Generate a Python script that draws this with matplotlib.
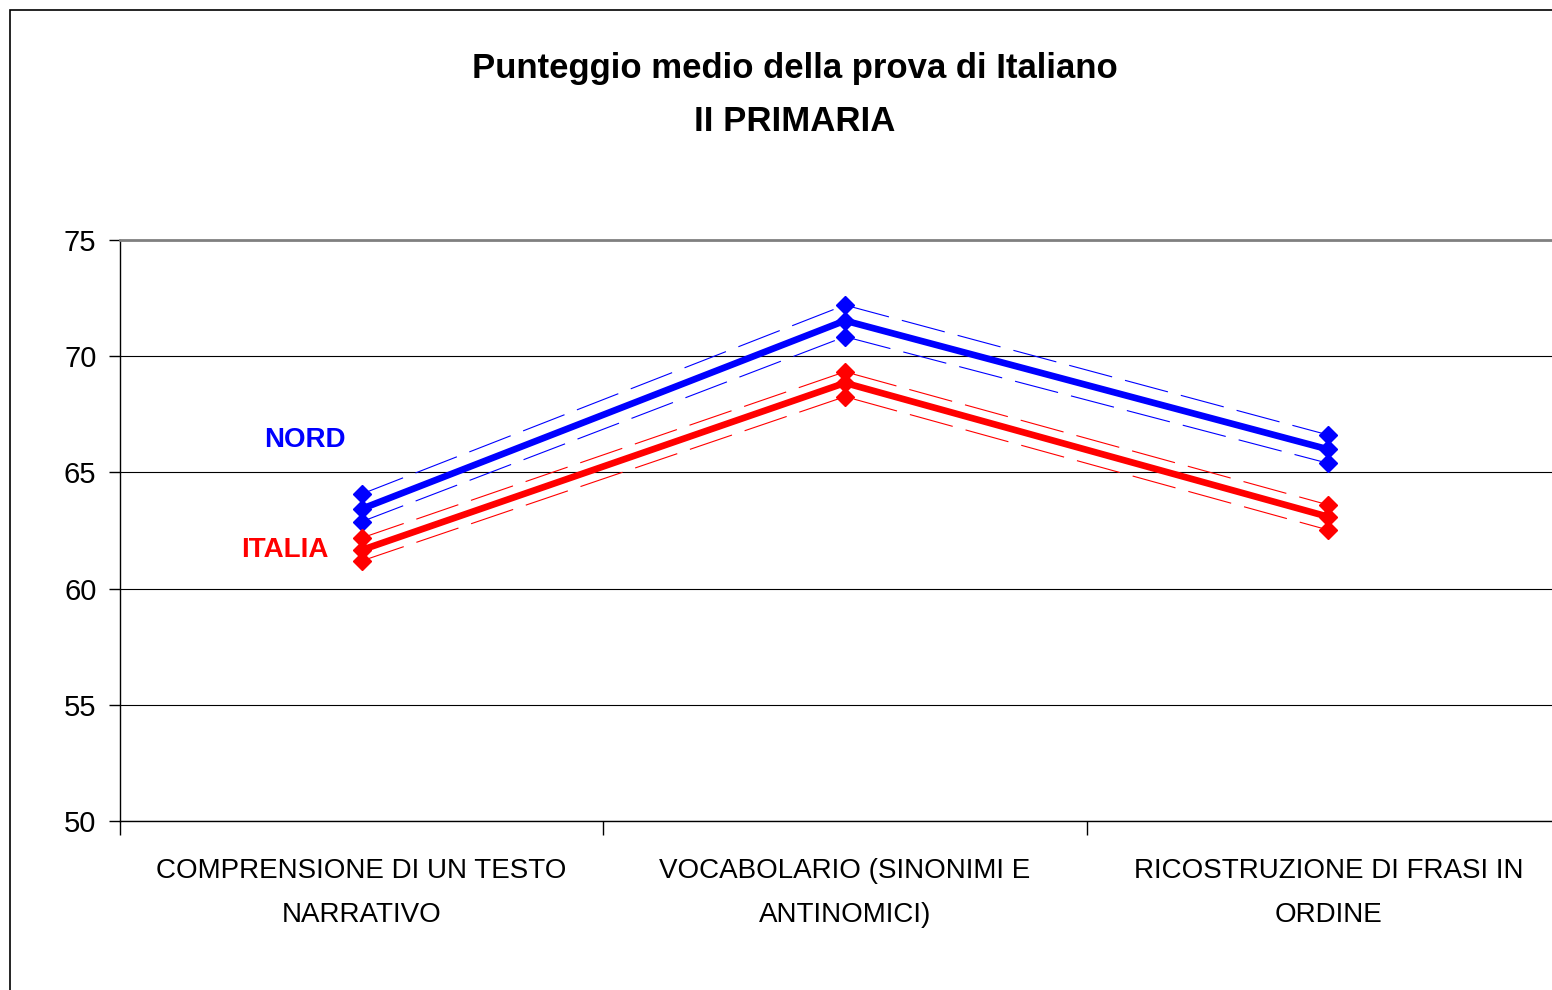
import matplotlib
matplotlib.use("Agg")
import matplotlib.pyplot as plt
from matplotlib.patches import Rectangle
from matplotlib.ticker import FixedLocator
from matplotlib import font_manager

fams = {f.name for f in font_manager.fontManager.ttflist}
narrow = "Liberation Sans Narrow" if "Liberation Sans Narrow" in fams else "Liberation Sans"
plt.rcParams['font.family'] = [narrow, 'DejaVu Sans']

categories = ["COMPRENSIONE DI UN TESTO\nNARRATIVO",
              "VOCABOLARIO (SINONIMI E\nANTINOMICI)",
              "RICOSTRUZIONE DI FRASI IN\nORDINE"]
nord_mean = [63.43, 71.53, 65.99]
nord_upper = [64.07, 72.20, 66.61]
nord_lower = [62.88, 70.84, 65.39]
italia_mean = [61.66, 68.85, 63.09]
italia_upper = [62.18, 69.33, 63.60]
italia_lower = [61.19, 68.26, 62.52]
yticks = [50, 55, 60, 65, 70, 75]

W, H = 1552, 990
fig = plt.figure(figsize=(W / 100, H / 100), dpi=100)
fig.patches.append(Rectangle((10 / W, -0.1), 1.2, 1 - 10 / H + 0.1,
                             transform=fig.transFigure, fill=False,
                             edgecolor='black', linewidth=1.2))

ax = fig.add_axes([120 / W, 1 - 821 / H, 1450 / W, (821 - 240) / H])
x = list(range(len(categories)))

for mean, up, lo, col in [(nord_mean, nord_upper, nord_lower, '#0000ff'),
                          (italia_mean, italia_upper, italia_lower, '#ff0000')]:
    for s in (up, lo):
        ax.plot(x, s, color=col, lw=0.8, dashes=(40, 12), marker='D',
                markersize=9, markeredgecolor=col, markerfacecolor=col, zorder=3)
    ax.plot(x, mean, color=col, lw=4.8, marker='D', markersize=9,
            markeredgecolor=col, markerfacecolor=col, zorder=4)

ax.set_xlim(-0.5, 2.5)
ax.set_ylim(50, 75)
ax.set_yticks(yticks)
ax.set_yticklabels([str(v) for v in yticks], fontsize=21)
ax.tick_params(axis='y', length=8, width=1, pad=9)
ax.set_xticks(x)
ax.set_xticklabels(categories, fontsize=20, linespacing=1.9)
ax.tick_params(axis='x', which='major', length=0, pad=27)
ax.xaxis.set_minor_locator(FixedLocator([-0.5, 0.5, 1.5, 2.5]))
ax.tick_params(axis='x', which='minor', length=10, width=1)

ax.grid(axis='y', color='black', linewidth=0.8)
ax.set_axisbelow(True)
ax.spines['top'].set_color('#808080')
ax.spines['top'].set_linewidth(2)
ax.spines['right'].set_visible(False)
ax.spines['left'].set_linewidth(1)
ax.spines['bottom'].set_linewidth(1)

ax.text(-0.117, 66.4, "NORD", color='#0000ff', fontsize=20, fontweight='bold',
        ha='center', va='center')
ax.text(-0.16, 61.66, "ITALIA", color='#ff0000', fontsize=20, fontweight='bold',
        ha='center', va='center')

fig.text(795 / W, 1 - 95 / H, "Punteggio medio della prova di Italiano\nII PRIMARIA",
         ha='center', va='center', fontsize=25, fontweight='bold', linespacing=1.8)

fig.savefig("out.png", dpi=100)
